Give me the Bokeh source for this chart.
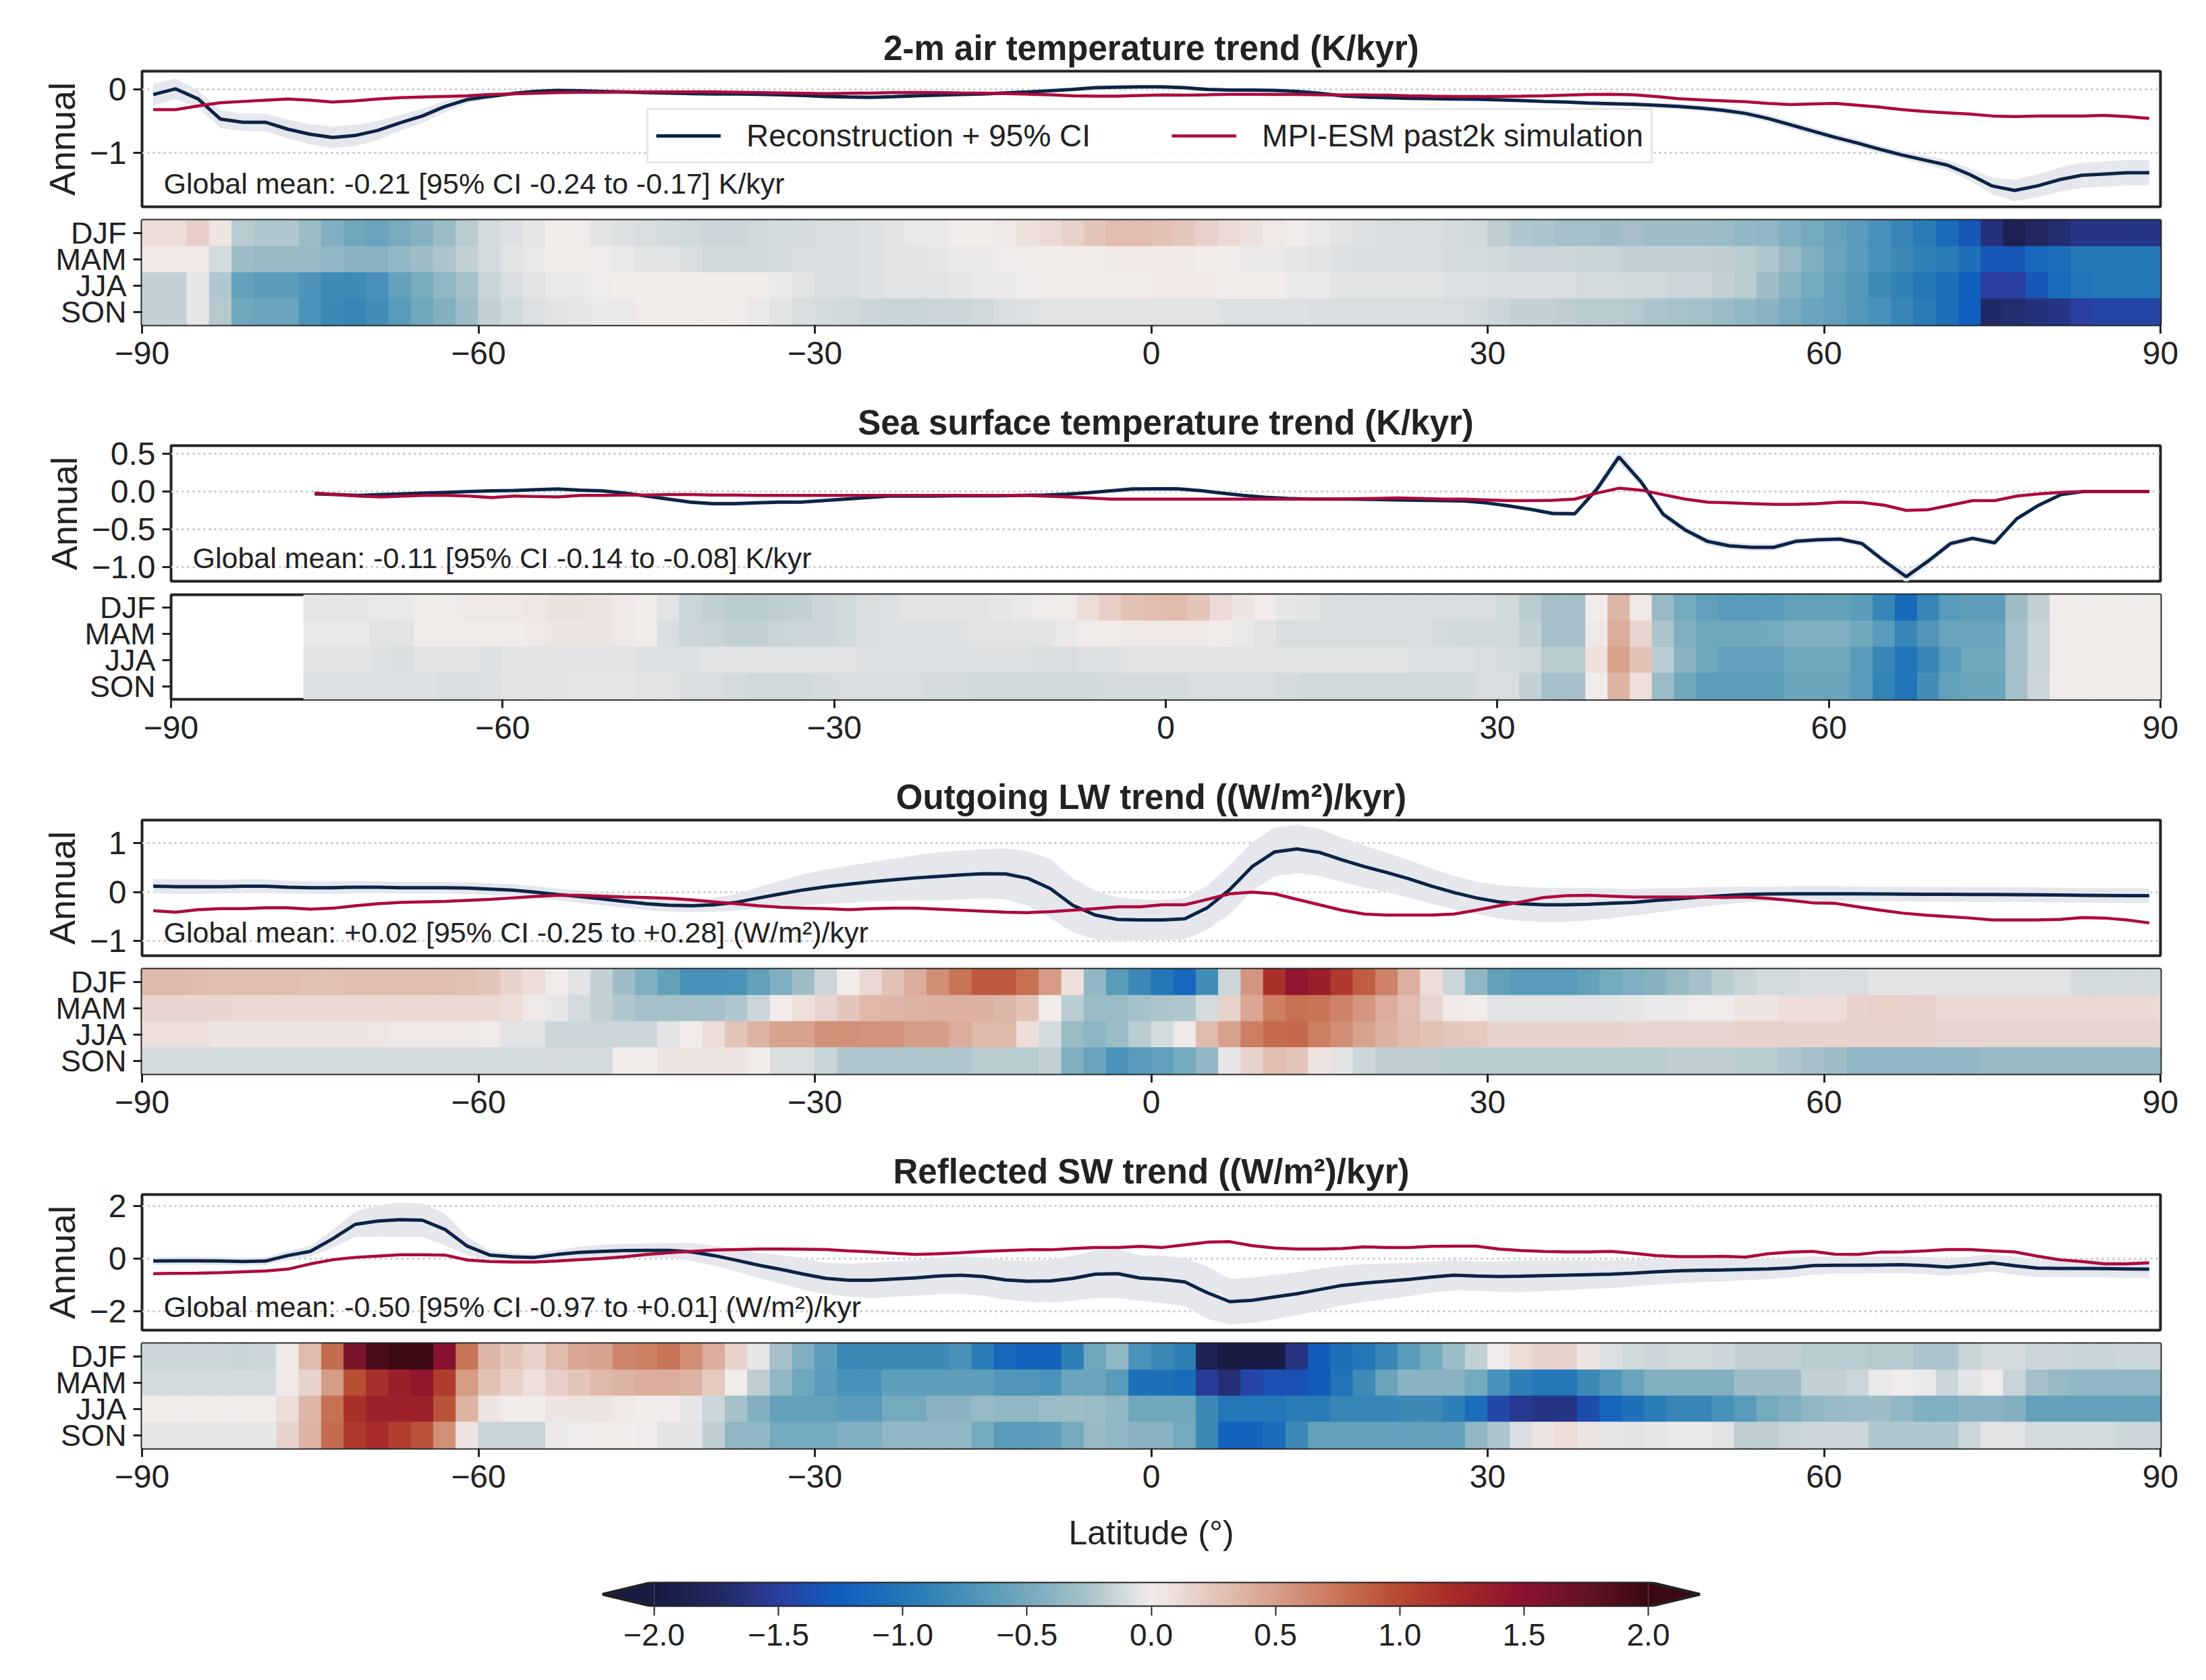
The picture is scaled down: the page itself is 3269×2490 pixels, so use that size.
import numpy as np
from bokeh.plotting import figure
from bokeh.models import (Range1d, FactorRange, ColumnDataSource, LinearColorMapper, Label,
                          Legend, LegendItem, FixedTicker)
from bokeh.transform import transform
from bokeh.embed import file_html
from bokeh.resources import INLINE

N = float("nan")
LAT = list(range(-89, 90, 2))          # latitude grid-cell centres (deg)
SEASONS = ["DJF", "MAM", "JJA", "SON"]
X_TICKS = [-90, -60, -30, 0, 30, 60, 90]
CB_TICKS = [-2.0, -1.5, -1.0, -0.5, 0.0, 0.5, 1.0, 1.5, 2.0]

TITLES = ["2-m air temperature trend (K/kyr)",
          "Sea surface temperature trend (K/kyr)",
          "Outgoing LW trend ((W/m\u00b2)/kyr)",
          "Reflected SW trend ((W/m\u00b2)/kyr)"]
GLOBAL_MEAN = ["Global mean: -0.21 [95% CI -0.24 to -0.17] K/kyr",
               "Global mean: -0.11 [95% CI -0.14 to -0.08] K/kyr",
               "Global mean: +0.02 [95% CI -0.25 to +0.28] (W/m\u00b2)/kyr",
               "Global mean: -0.50 [95% CI -0.97 to +0.01] (W/m\u00b2)/kyr"]
LEGEND_LABELS = ["Reconstruction + 95% CI", "MPI-ESM past2k simulation"]

# ---------------- 2-m air temperature ----------------
T2M_REC = [-0.08, 0.01, -0.15, -0.47, -0.52, -0.52, -0.63, -0.71, -0.76, -0.73,
           -0.65, -0.53, -0.42, -0.27, -0.16, -0.11, -0.065, -0.03, -0.015, -0.02,
           -0.03, -0.04, -0.05, -0.057, -0.065, -0.07, -0.072, -0.076, -0.084, -0.095,
           -0.11, -0.12, -0.125, -0.115, -0.1, -0.09, -0.08, -0.07, -0.055, -0.04,
           -0.02, 0.0, 0.027, 0.035, 0.04, 0.04, 0.027, 0.0, -0.01, -0.01,
           -0.015, -0.03, -0.06, -0.1, -0.12, -0.13, -0.14, -0.145, -0.15, -0.155,
           -0.165, -0.175, -0.19, -0.2, -0.215, -0.225, -0.235, -0.25, -0.27, -0.295,
           -0.33, -0.38, -0.46, -0.56, -0.66, -0.76, -0.85, -0.95, -1.04, -1.12,
           -1.2, -1.35, -1.53, -1.6, -1.53, -1.43, -1.36, -1.34, -1.32, -1.32]
T2M_CI = [0.17, 0.16, 0.14, 0.14, 0.14, 0.14, 0.15, 0.16, 0.17, 0.17,
          0.15, 0.13, 0.11, 0.09, 0.06, 0.04, 0.03, 0.03, 0.03, 0.03,
          0.03, 0.03, 0.03, 0.03, 0.03, 0.03, 0.03, 0.03, 0.03, 0.03,
          0.03, 0.03, 0.03, 0.03, 0.03, 0.03, 0.03, 0.03, 0.03, 0.03,
          0.03, 0.03, 0.035, 0.035, 0.035, 0.035, 0.035, 0.03, 0.03, 0.03,
          0.03, 0.03, 0.03, 0.03, 0.03, 0.03, 0.03, 0.03, 0.03, 0.03,
          0.03, 0.03, 0.03, 0.03, 0.035, 0.035, 0.04, 0.04, 0.045, 0.05,
          0.05, 0.055, 0.06, 0.06, 0.06, 0.06, 0.06, 0.06, 0.06, 0.07,
          0.08, 0.1, 0.13, 0.17, 0.18, 0.19, 0.2, 0.2, 0.2, 0.2]
T2M_MPI = [-0.32, -0.32, -0.26, -0.21, -0.19, -0.17, -0.15, -0.17, -0.2, -0.18,
           -0.15, -0.13, -0.12, -0.11, -0.1, -0.08, -0.07, -0.06, -0.05, -0.045,
           -0.045, -0.04, -0.04, -0.04, -0.04, -0.04, -0.045, -0.05, -0.055, -0.06,
           -0.065, -0.06, -0.057, -0.05, -0.046, -0.05, -0.055, -0.057, -0.065, -0.075,
           -0.085, -0.1, -0.107, -0.107, -0.095, -0.088, -0.09, -0.085, -0.076, -0.076,
           -0.078, -0.08, -0.084, -0.086, -0.088, -0.09, -0.1, -0.107, -0.11, -0.11,
           -0.11, -0.107, -0.1, -0.09, -0.08, -0.076, -0.085, -0.11, -0.145, -0.165,
           -0.18, -0.195, -0.22, -0.24, -0.23, -0.22, -0.25, -0.28, -0.32, -0.35,
           -0.37, -0.39, -0.42, -0.43, -0.42, -0.42, -0.42, -0.41, -0.43, -0.46]
T2M_DJF = [0.1, 0.1, 0.2, 0.05, -0.2, -0.22, -0.22, -0.32, -0.45, -0.52,
           -0.55, -0.48, -0.42, -0.32, -0.2, -0.1, -0.07, -0.04, 0.0, 0.0,
           -0.05, -0.07, -0.08, -0.1, -0.12, -0.13, -0.13, -0.12, -0.1, -0.1,
           -0.08, -0.08, -0.07, -0.05, -0.03, -0.02, 0.0, 0.0, 0.02, 0.07,
           0.12, 0.18, 0.25, 0.3, 0.3, 0.28, 0.24, 0.18, 0.12, 0.07,
           0.03, 0.01, -0.03, -0.06, -0.07, -0.08, -0.08, -0.09, -0.1, -0.11,
           -0.18, -0.22, -0.25, -0.27, -0.28, -0.3, -0.28, -0.3, -0.3, -0.3,
           -0.32, -0.35, -0.37, -0.44, -0.5, -0.57, -0.65, -0.75, -0.85, -0.95,
           -1.1, -1.3, -1.65, -1.88, -1.75, -1.68, -1.6, -1.6, -1.6, -1.6]
T2M_MAM = [0.02, 0.02, 0.02, -0.1, -0.3, -0.33, -0.33, -0.34, -0.36, -0.4,
           -0.4, -0.35, -0.3, -0.25, -0.17, -0.1, -0.06, -0.03, 0.0, 0.0,
           -0.01, -0.03, -0.05, -0.06, -0.08, -0.12, -0.12, -0.12, -0.1, -0.09,
           -0.08, -0.08, -0.07, -0.06, -0.05, -0.04, -0.03, -0.02, -0.01, 0.0,
           0.0, 0.01, 0.01, 0.02, 0.02, 0.02, 0.02, 0.01, 0.0, -0.02,
           -0.03, -0.04, -0.05, -0.07, -0.08, -0.08, -0.08, -0.09, -0.1, -0.1,
           -0.12, -0.13, -0.14, -0.14, -0.15, -0.15, -0.16, -0.16, -0.17, -0.17,
           -0.18, -0.2, -0.22, -0.33, -0.45, -0.55, -0.65, -0.75, -0.82, -0.9,
           -0.95, -1.05, -1.3, -1.3, -1.15, -1.08, -1.0, -1.0, -1.0, -1.0]
T2M_JJA = [-0.16, -0.16, -0.04, -0.22, -0.58, -0.63, -0.63, -0.73, -0.8, -0.8,
           -0.74, -0.58, -0.47, -0.37, -0.27, -0.15, -0.08, -0.06, -0.03, -0.02,
           -0.01, 0.0, 0.0, 0.0, 0.01, 0.01, 0.0, 0.0, -0.02, -0.05,
           -0.08, -0.08, -0.07, -0.06, -0.06, -0.05, -0.04, -0.03, -0.02, -0.01,
           0.0, 0.0, 0.0, 0.01, 0.01, 0.02, 0.02, 0.02, 0.01, 0.01,
           0.0, -0.02, -0.03, -0.05, -0.05, -0.05, -0.06, -0.06, -0.07, -0.07,
           -0.08, -0.08, -0.09, -0.09, -0.1, -0.1, -0.11, -0.12, -0.13, -0.14,
           -0.16, -0.2, -0.3, -0.4, -0.5, -0.58, -0.68, -0.8, -0.9, -1.0,
           -1.05, -1.22, -1.5, -1.5, -1.3, -1.12, -1.03, -1.0, -1.0, -1.0]
T2M_SON = [-0.16, -0.16, -0.04, -0.21, -0.53, -0.56, -0.56, -0.72, -0.82, -0.85,
           -0.78, -0.65, -0.52, -0.43, -0.3, -0.17, -0.11, -0.07, -0.05, -0.04,
           -0.03, -0.02, 0.0, 0.0, 0.0, 0.01, 0.0, -0.03, -0.05, -0.08,
           -0.1, -0.12, -0.14, -0.15, -0.15, -0.14, -0.13, -0.11, -0.09, -0.07,
           -0.06, -0.06, -0.05, -0.05, -0.05, -0.05, -0.06, -0.06, -0.07, -0.07,
           -0.07, -0.07, -0.08, -0.08, -0.08, -0.08, -0.08, -0.08, -0.09, -0.1,
           -0.14, -0.16, -0.17, -0.18, -0.19, -0.2, -0.21, -0.24, -0.26, -0.28,
           -0.32, -0.35, -0.4, -0.48, -0.55, -0.6, -0.68, -0.75, -0.85, -0.95,
           -1.05, -1.25, -1.72, -1.68, -1.65, -1.6, -1.5, -1.45, -1.45, -1.45]

# ---------------- Sea surface temperature ----------------
SST_REC = [N, N, N, N, N, N, -0.03, -0.04, -0.05, -0.04,
           -0.03, -0.02, -0.01, 0.0, 0.01, 0.015, 0.025, 0.035, 0.02, 0.01,
           -0.02, -0.06, -0.1, -0.14, -0.16, -0.16, -0.15, -0.14, -0.14, -0.12,
           -0.1, -0.08, -0.06, -0.06, -0.06, -0.055, -0.055, -0.055, -0.05, -0.045,
           -0.035, -0.015, 0.01, 0.035, 0.037, 0.037, 0.015, -0.02, -0.05, -0.075,
           -0.09, -0.1, -0.1, -0.1, -0.105, -0.11, -0.115, -0.12, -0.125, -0.15,
           -0.19, -0.235, -0.29, -0.295, 0.03, 0.46, 0.13, -0.3, -0.51, -0.66,
           -0.72, -0.74, -0.74, -0.66, -0.64, -0.63, -0.69, -0.92, -1.13, -0.92,
           -0.69, -0.62, -0.68, -0.36, -0.18, -0.04, 0.0, 0.0, 0.0, 0.0]
SST_CI = [N, N, N, N, N, N, 0.02, 0.02, 0.02, 0.02,
          0.02, 0.02, 0.02, 0.02, 0.02, 0.02, 0.02, 0.02, 0.02, 0.02,
          0.02, 0.02, 0.025, 0.03, 0.03, 0.03, 0.03, 0.03, 0.02, 0.02,
          0.02, 0.02, 0.02, 0.02, 0.02, 0.02, 0.02, 0.02, 0.02, 0.02,
          0.02, 0.02, 0.025, 0.03, 0.03, 0.03, 0.025, 0.02, 0.02, 0.02,
          0.02, 0.02, 0.02, 0.02, 0.02, 0.02, 0.02, 0.02, 0.02, 0.02,
          0.025, 0.03, 0.035, 0.035, 0.05, 0.09, 0.06, 0.05, 0.05, 0.05,
          0.05, 0.05, 0.05, 0.04, 0.04, 0.04, 0.04, 0.05, 0.08, 0.06,
          0.04, 0.04, 0.04, 0.03, 0.02, 0.01, 0.005, 0.005, 0.005, 0.005]
SST_MPI = [N, N, N, N, N, N, -0.02, -0.04, -0.06, -0.07,
           -0.06, -0.05, -0.05, -0.06, -0.08, -0.06, -0.065, -0.07, -0.05, -0.05,
           -0.045, -0.045, -0.04, -0.04, -0.045, -0.045, -0.05, -0.05, -0.05, -0.05,
           -0.05, -0.05, -0.05, -0.05, -0.05, -0.05, -0.05, -0.05, -0.05, -0.06,
           -0.07, -0.085, -0.1, -0.1, -0.1, -0.1, -0.1, -0.1, -0.1, -0.1,
           -0.1, -0.1, -0.1, -0.095, -0.09, -0.085, -0.09, -0.1, -0.1, -0.11,
           -0.12, -0.12, -0.115, -0.1, -0.02, 0.045, 0.02, -0.04, -0.1, -0.14,
           -0.15, -0.16, -0.17, -0.17, -0.16, -0.14, -0.145, -0.18, -0.25, -0.24,
           -0.18, -0.12, -0.12, -0.06, -0.03, -0.01, 0.0, 0.0, 0.0, 0.0]
SST_DJF = [N, N, N, N, N, N, -0.04, -0.04, -0.04, -0.02,
           -0.02, 0.0, 0.01, 0.02, 0.02, 0.02, 0.04, 0.07, 0.07, 0.06,
           0.03, 0.0, -0.06, -0.13, -0.17, -0.19, -0.19, -0.18, -0.17, -0.14,
           -0.12, -0.08, -0.07, -0.06, -0.06, -0.05, -0.05, -0.04, -0.02, -0.01,
           0.01, 0.1, 0.2, 0.28, 0.3, 0.32, 0.25, 0.12, 0.05, 0.01,
           -0.04, -0.06, -0.08, -0.08, -0.08, -0.08, -0.08, -0.08, -0.08, -0.08,
           -0.12, -0.19, -0.27, -0.27, 0.0, 0.35, 0.02, -0.34, -0.5, -0.6,
           -0.65, -0.65, -0.65, -0.58, -0.58, -0.58, -0.64, -0.85, -1.13, -0.85,
           -0.65, -0.62, -0.62, -0.3, -0.17, 0.01, 0.01, 0.01, 0.01, 0.01]
SST_MAM = [N, N, N, N, N, N, -0.02, -0.02, -0.02, -0.05,
           -0.05, 0.0, 0.0, 0.0, 0.01, 0.01, 0.02, 0.05, 0.05, 0.05,
           0.03, 0.0, -0.08, -0.13, -0.15, -0.16, -0.16, -0.15, -0.14, -0.13,
           -0.12, -0.08, -0.07, -0.07, -0.07, -0.07, -0.06, -0.06, -0.06, -0.05,
           -0.03, 0.0, 0.01, 0.02, 0.02, 0.02, 0.02, 0.01, -0.03, -0.05,
           -0.08, -0.08, -0.08, -0.08, -0.08, -0.09, -0.09, -0.1, -0.12, -0.12,
           -0.12, -0.17, -0.27, -0.27, 0.02, 0.42, 0.15, -0.25, -0.45, -0.52,
           -0.52, -0.52, -0.5, -0.45, -0.45, -0.45, -0.52, -0.65, -0.85, -0.7,
           -0.55, -0.55, -0.55, -0.28, -0.15, 0.0, 0.0, 0.0, 0.0, 0.0]
SST_JJA = [N, N, N, N, N, N, -0.05, -0.05, -0.05, -0.07,
           -0.08, -0.06, -0.05, -0.06, -0.07, -0.06, -0.06, -0.05, -0.05, -0.06,
           -0.06, -0.07, -0.07, -0.07, -0.06, -0.06, -0.06, -0.05, -0.05, -0.06,
           -0.06, -0.07, -0.07, -0.07, -0.07, -0.07, -0.07, -0.07, -0.07, -0.08,
           -0.08, -0.07, -0.07, -0.06, -0.06, -0.06, -0.06, -0.06, -0.06, -0.06,
           -0.06, -0.06, -0.06, -0.06, -0.06, -0.06, -0.07, -0.07, -0.07, -0.08,
           -0.1, -0.11, -0.2, -0.2, 0.08, 0.48, 0.27, -0.2, -0.4, -0.52,
           -0.6, -0.6, -0.6, -0.52, -0.52, -0.52, -0.65, -0.85, -1.02, -0.85,
           -0.65, -0.53, -0.53, -0.28, -0.15, 0.0, 0.0, 0.0, 0.0, 0.0]
SST_SON = [N, N, N, N, N, N, -0.07, -0.07, -0.07, -0.07,
           -0.07, -0.07, -0.08, -0.08, -0.07, -0.06, -0.06, -0.05, -0.04, -0.04,
           -0.04, -0.05, -0.06, -0.08, -0.09, -0.1, -0.11, -0.11, -0.11, -0.1,
           -0.09, -0.08, -0.08, -0.09, -0.1, -0.1, -0.11, -0.11, -0.12, -0.12,
           -0.12, -0.11, -0.1, -0.1, -0.1, -0.1, -0.09, -0.08, -0.08, -0.09,
           -0.1, -0.12, -0.12, -0.12, -0.12, -0.12, -0.12, -0.12, -0.12, -0.09,
           -0.08, -0.16, -0.27, -0.27, 0.0, 0.37, 0.08, -0.32, -0.52, -0.62,
           -0.62, -0.62, -0.62, -0.56, -0.56, -0.56, -0.65, -0.88, -1.02, -0.78,
           -0.58, -0.56, -0.56, -0.27, -0.13, 0.0, 0.0, 0.0, 0.0, 0.0]

# ---------------- Outgoing longwave ----------------
LW_REC = [0.12, 0.11, 0.11, 0.11, 0.12, 0.12, 0.1, 0.09, 0.09, 0.1,
          0.1, 0.09, 0.09, 0.09, 0.08, 0.06, 0.04, 0.0, -0.05, -0.09,
          -0.14, -0.19, -0.24, -0.27, -0.28, -0.26, -0.21, -0.12, -0.035, 0.045,
          0.11, 0.16, 0.21, 0.25, 0.29, 0.32, 0.35, 0.375, 0.37, 0.28,
          0.07, -0.27, -0.47, -0.56, -0.57, -0.57, -0.545, -0.32, 0.05, 0.52,
          0.82, 0.88, 0.81, 0.66, 0.52, 0.4, 0.27, 0.12, -0.01, -0.12,
          -0.2, -0.24, -0.26, -0.26, -0.25, -0.23, -0.21, -0.17, -0.14, -0.1,
          -0.075, -0.05, -0.04, -0.035, -0.035, -0.035, -0.037, -0.04, -0.042, -0.045,
          -0.047, -0.05, -0.05, -0.052, -0.055, -0.06, -0.065, -0.07, -0.075, -0.075]
LW_CI = [0.15, 0.15, 0.15, 0.14, 0.14, 0.14, 0.13, 0.13, 0.13, 0.13,
         0.12, 0.12, 0.12, 0.12, 0.12, 0.12, 0.12, 0.12, 0.12, 0.13,
         0.13, 0.13, 0.13, 0.13, 0.13, 0.14, 0.17, 0.22, 0.27, 0.32,
         0.35, 0.38, 0.4, 0.43, 0.46, 0.49, 0.5, 0.5, 0.52, 0.56,
         0.6, 0.55, 0.5, 0.45, 0.42, 0.41, 0.42, 0.45, 0.5, 0.5,
         0.5, 0.49, 0.48, 0.45, 0.43, 0.4, 0.38, 0.36, 0.34, 0.33,
         0.34, 0.35, 0.35, 0.35, 0.33, 0.3, 0.27, 0.25, 0.22, 0.2,
         0.18, 0.16, 0.15, 0.15, 0.15, 0.15, 0.15, 0.15, 0.15, 0.15,
         0.15, 0.15, 0.15, 0.15, 0.15, 0.15, 0.15, 0.15, 0.15, 0.15]
LW_MPI = [-0.38, -0.41, -0.36, -0.34, -0.34, -0.32, -0.32, -0.35, -0.33, -0.28,
          -0.24, -0.21, -0.2, -0.19, -0.17, -0.15, -0.12, -0.09, -0.065, -0.065,
          -0.085, -0.1, -0.11, -0.13, -0.16, -0.2, -0.24, -0.28, -0.31, -0.33,
          -0.34, -0.36, -0.34, -0.33, -0.33, -0.35, -0.37, -0.39, -0.41, -0.42,
          -0.4, -0.37, -0.34, -0.3, -0.3, -0.26, -0.26, -0.15, -0.035, 0.0,
          -0.035, -0.15, -0.26, -0.37, -0.45, -0.47, -0.47, -0.47, -0.45, -0.37,
          -0.28, -0.2, -0.11, -0.075, -0.065, -0.085, -0.1, -0.1, -0.1, -0.1,
          -0.11, -0.1, -0.13, -0.17, -0.22, -0.23, -0.3, -0.37, -0.43, -0.47,
          -0.5, -0.53, -0.57, -0.57, -0.57, -0.56, -0.52, -0.53, -0.57, -0.63]
LW_DJF = [0.33, 0.34, 0.32, 0.31, 0.3, 0.3, 0.3, 0.29, 0.29, 0.3,
          0.3, 0.3, 0.3, 0.3, 0.29, 0.25, 0.17, 0.1, 0.01, -0.06,
          -0.16, -0.3, -0.45, -0.58, -0.75, -0.75, -0.72, -0.58, -0.45, -0.3,
          -0.13, 0.01, 0.13, 0.27, 0.42, 0.6, 0.75, 0.92, 0.92, 0.78,
          0.53, 0.08, -0.36, -0.65, -0.82, -1.0, -1.15, -0.78, -0.14, 0.55,
          1.18, 1.45, 1.35, 1.12, 0.88, 0.68, 0.4, 0.1, -0.13, -0.36,
          -0.58, -0.65, -0.65, -0.65, -0.58, -0.5, -0.45, -0.42, -0.34, -0.27,
          -0.2, -0.15, -0.1, -0.1, -0.08, -0.08, -0.08, -0.05, -0.05, -0.05,
          -0.05, -0.05, -0.06, -0.06, -0.06, -0.06, -0.1, -0.1, -0.1, -0.1]
LW_MAM = [0.15, 0.15, 0.15, 0.15, 0.14, 0.14, 0.14, 0.14, 0.14, 0.14,
          0.14, 0.13, 0.13, 0.13, 0.13, 0.13, 0.1, 0.03, -0.04, -0.1,
          -0.16, -0.22, -0.27, -0.27, -0.28, -0.28, -0.23, -0.13, 0.0, 0.08,
          0.15, 0.25, 0.33, 0.35, 0.36, 0.38, 0.38, 0.38, 0.35, 0.27,
          0.01, -0.19, -0.32, -0.32, -0.28, -0.25, -0.23, -0.1, 0.18, 0.45,
          0.7, 0.78, 0.76, 0.68, 0.55, 0.42, 0.3, 0.15, 0.03, 0.0,
          -0.05, -0.06, -0.06, -0.06, -0.05, -0.05, -0.04, -0.03, -0.02, -0.01,
          -0.01, 0.05, 0.05, 0.1, 0.1, 0.1, 0.17, 0.18, 0.18, 0.17,
          0.14, 0.14, 0.13, 0.13, 0.13, 0.13, 0.13, 0.13, 0.13, 0.13]
LW_JJA = [0.09, 0.09, 0.08, 0.06, 0.05, 0.05, 0.05, 0.05, 0.05, 0.05,
          0.04, 0.03, 0.02, 0.02, 0.02, 0.01, -0.05, -0.05, -0.13, -0.13,
          -0.13, -0.13, -0.13, -0.06, 0.01, 0.1, 0.25, 0.36, 0.47, 0.47,
          0.58, 0.58, 0.57, 0.57, 0.5, 0.5, 0.42, 0.33, 0.33, 0.1,
          -0.1, -0.32, -0.38, -0.32, -0.2, -0.1, 0.02, 0.32, 0.48, 0.7,
          0.8, 0.82, 0.7, 0.6, 0.48, 0.38, 0.32, 0.27, 0.24, 0.22,
          0.16, 0.17, 0.17, 0.17, 0.17, 0.16, 0.15, 0.15, 0.15, 0.15,
          0.15, 0.16, 0.16, 0.17, 0.17, 0.17, 0.17, 0.16, 0.16, 0.16,
          0.15, 0.15, 0.15, 0.15, 0.15, 0.15, 0.15, 0.15, 0.15, 0.15]
LW_SON = [-0.1, -0.1, -0.1, -0.1, -0.1, -0.1, -0.1, -0.1, -0.1, -0.1,
          -0.1, -0.1, -0.1, -0.1, -0.1, -0.1, -0.1, -0.1, -0.1, -0.1,
          -0.1, 0.0, 0.0, 0.05, 0.05, 0.05, 0.05, 0.0, -0.08, -0.08,
          -0.15, -0.23, -0.23, -0.23, -0.23, -0.23, -0.23, -0.19, -0.19, -0.19,
          -0.17, -0.45, -0.55, -0.72, -0.65, -0.6, -0.5, -0.35, -0.04, 0.17,
          0.3, 0.25, 0.05, -0.05, -0.13, -0.18, -0.18, -0.18, -0.2, -0.2,
          -0.2, -0.2, -0.2, -0.2, -0.19, -0.19, -0.19, -0.19, -0.18, -0.18,
          -0.18, -0.19, -0.2, -0.22, -0.28, -0.3, -0.36, -0.37, -0.37, -0.36,
          -0.35, -0.35, -0.34, -0.34, -0.34, -0.34, -0.34, -0.34, -0.34, -0.34]

# ---------------- Reflected shortwave ----------------
SW_REC = [-0.09, -0.08, -0.08, -0.09, -0.11, -0.09, 0.12, 0.28, 0.76, 1.31,
          1.44, 1.49, 1.47, 1.12, 0.48, 0.14, 0.07, 0.05, 0.16, 0.24,
          0.28, 0.31, 0.32, 0.32, 0.26, 0.12, -0.06, -0.25, -0.41, -0.59,
          -0.75, -0.82, -0.82, -0.78, -0.73, -0.66, -0.63, -0.68, -0.81, -0.86,
          -0.85, -0.75, -0.59, -0.57, -0.74, -0.79, -0.89, -1.3, -1.64, -1.59,
          -1.46, -1.34, -1.18, -1.02, -0.93, -0.86, -0.79, -0.7, -0.63, -0.66,
          -0.68, -0.67, -0.65, -0.63, -0.61, -0.59, -0.55, -0.5, -0.46, -0.44,
          -0.43, -0.41, -0.39, -0.35, -0.26, -0.25, -0.25, -0.24, -0.23, -0.26,
          -0.32, -0.25, -0.16, -0.27, -0.36, -0.37, -0.37, -0.38, -0.39, -0.4]
SW_CI = [0.15, 0.15, 0.15, 0.15, 0.15, 0.15, 0.17, 0.2, 0.35, 0.48,
         0.6, 0.66, 0.64, 0.6, 0.36, 0.17, 0.14, 0.13, 0.17, 0.22,
         0.25, 0.26, 0.27, 0.28, 0.34, 0.38, 0.43, 0.48, 0.55, 0.6,
         0.6, 0.63, 0.68, 0.68, 0.68, 0.7, 0.72, 0.73, 0.75, 0.78,
         0.82, 0.86, 0.9, 0.94, 0.87, 0.9, 0.92, 1.0, 0.87, 0.86,
         0.85, 0.82, 0.8, 0.76, 0.72, 0.68, 0.64, 0.6, 0.58, 0.56,
         0.58, 0.6, 0.59, 0.57, 0.55, 0.53, 0.51, 0.49, 0.47, 0.45,
         0.43, 0.41, 0.39, 0.37, 0.35, 0.32, 0.32, 0.32, 0.32, 0.33,
         0.33, 0.33, 0.33, 0.34, 0.34, 0.33, 0.33, 0.34, 0.34, 0.34]
SW_MPI = [-0.57, -0.56, -0.55, -0.53, -0.5, -0.47, -0.4, -0.2, -0.04, 0.05,
          0.1, 0.15, 0.15, 0.14, -0.05, -0.11, -0.13, -0.13, -0.09, -0.04,
          0.01, 0.07, 0.16, 0.23, 0.28, 0.33, 0.35, 0.37, 0.37, 0.36,
          0.35, 0.3, 0.26, 0.21, 0.16, 0.19, 0.23, 0.28, 0.31, 0.34,
          0.34, 0.39, 0.43, 0.43, 0.47, 0.43, 0.53, 0.63, 0.65, 0.5,
          0.41, 0.37, 0.37, 0.39, 0.45, 0.43, 0.43, 0.47, 0.48, 0.48,
          0.37, 0.31, 0.28, 0.26, 0.26, 0.28, 0.21, 0.12, 0.08, 0.08,
          0.09, 0.06, 0.19, 0.25, 0.28, 0.17, 0.16, 0.25, 0.26, 0.3,
          0.35, 0.35, 0.3, 0.26, 0.1, -0.04, -0.11, -0.2, -0.2, -0.16]
SW_DJF = [-0.13, -0.13, -0.13, -0.14, -0.15, -0.14, 0.03, 0.32, 0.8, 1.6,
          1.9, 2.0, 2.0, 1.52, 0.76, 0.35, 0.25, 0.18, 0.32, 0.44,
          0.47, 0.66, 0.69, 0.75, 0.6, 0.42, 0.17, -0.04, -0.28, -0.45,
          -0.62, -0.82, -0.82, -0.82, -0.82, -0.82, -0.75, -0.95, -1.15, -1.2,
          -1.2, -0.92, -0.53, -0.37, -0.72, -0.82, -0.92, -1.85, -1.98, -1.98,
          -1.98, -1.62, -1.28, -1.05, -1.0, -0.85, -0.65, -0.5, -0.32, -0.16,
          -0.01, 0.1, 0.17, 0.17, 0.05, -0.07, -0.12, -0.13, -0.12, -0.12,
          -0.13, -0.16, -0.16, -0.16, -0.2, -0.2, -0.2, -0.21, -0.21, -0.25,
          -0.25, -0.15, -0.1, -0.1, -0.14, -0.14, -0.15, -0.15, -0.14, -0.14]
SW_MAM = [-0.1, -0.1, -0.1, -0.1, -0.1, -0.1, 0.02, 0.16, 0.5, 0.98,
          1.2, 1.35, 1.45, 1.1, 0.52, 0.27, 0.18, 0.08, 0.2, 0.25,
          0.33, 0.37, 0.42, 0.42, 0.37, 0.23, 0.01, -0.18, -0.37, -0.52,
          -0.65, -0.75, -0.75, -0.62, -0.62, -0.62, -0.62, -0.62, -0.7, -0.7,
          -0.72, -0.56, -0.56, -0.65, -1.05, -1.05, -1.1, -1.52, -1.67, -1.45,
          -1.35, -1.35, -1.28, -1.03, -0.8, -0.56, -0.4, -0.4, -0.4, -0.5,
          -0.75, -0.92, -1.0, -1.0, -0.82, -0.7, -0.55, -0.43, -0.43, -0.43,
          -0.43, -0.3, -0.3, -0.3, -0.17, -0.17, -0.13, -0.03, -0.01, -0.02,
          -0.13, -0.05, -0.01, -0.15, -0.28, -0.33, -0.36, -0.36, -0.36, -0.36]
SW_JJA = [0.01, 0.01, 0.01, 0.01, 0.0, 0.0, 0.1, 0.35, 0.78, 1.18,
          1.32, 1.32, 1.32, 0.95, 0.37, 0.06, 0.01, 0.01, 0.05, 0.05,
          0.05, 0.03, 0.01, 0.01, -0.04, -0.13, -0.27, -0.43, -0.58, -0.58,
          -0.58, -0.65, -0.65, -0.5, -0.5, -0.4, -0.4, -0.34, -0.37, -0.37,
          -0.32, -0.3, -0.32, -0.37, -0.52, -0.52, -0.52, -0.82, -1.0, -1.0,
          -1.0, -0.95, -0.95, -0.85, -0.85, -0.85, -0.82, -0.82, -0.92, -1.08,
          -1.42, -1.55, -1.6, -1.6, -1.38, -1.18, -1.05, -0.95, -0.85, -0.85,
          -0.75, -0.65, -0.5, -0.45, -0.36, -0.34, -0.32, -0.31, -0.36, -0.45,
          -0.45, -0.4, -0.4, -0.43, -0.58, -0.58, -0.58, -0.58, -0.58, -0.58]
SW_SON = [-0.04, -0.04, -0.04, -0.04, -0.04, -0.04, 0.17, 0.37, 0.8, 1.12,
          1.22, 1.08, 0.95, 0.58, 0.06, -0.15, -0.15, -0.15, -0.02, -0.01,
          0.0, 0.0, -0.01, -0.06, -0.06, -0.18, -0.37, -0.37, -0.5, -0.5,
          -0.5, -0.45, -0.45, -0.37, -0.37, -0.37, -0.37, -0.5, -0.65, -0.65,
          -0.62, -0.5, -0.34, -0.36, -0.4, -0.4, -0.5, -0.82, -1.2, -1.2,
          -1.1, -0.82, -0.58, -0.58, -0.58, -0.58, -0.58, -0.58, -0.58, -0.36,
          -0.25, -0.08, 0.05, 0.1, 0.05, -0.04, -0.05, -0.04, -0.03, -0.03,
          -0.05, -0.18, -0.18, -0.15, -0.13, -0.13, -0.13, -0.23, -0.23, -0.23,
          -0.23, -0.13, -0.06, -0.06, -0.1, -0.1, -0.1, -0.1, -0.13, -0.13]

PANELS = [
    dict(rec=T2M_REC, ci=T2M_CI, mpi=T2M_MPI, heat=[T2M_DJF, T2M_MAM, T2M_JJA, T2M_SON],
         yr=(-1.86, 0.29), yt=[-1, 0], yl=["\u22121", "0"]),
    dict(rec=SST_REC, ci=SST_CI, mpi=SST_MPI, heat=[SST_DJF, SST_MAM, SST_JJA, SST_SON],
         yr=(-1.19, 0.61), yt=[-1.0, -0.5, 0.0, 0.5], yl=["\u22121.0", "\u22120.5", "0.0", "0.5"]),
    dict(rec=LW_REC, ci=LW_CI, mpi=LW_MPI, heat=[LW_DJF, LW_MAM, LW_JJA, LW_SON],
         yr=(-1.30, 1.47), yt=[-1, 0, 1], yl=["\u22121", "0", "1"]),
    dict(rec=SW_REC, ci=SW_CI, mpi=SW_MPI, heat=[SW_DJF, SW_MAM, SW_JJA, SW_SON],
         yr=(-2.73, 2.45), yt=[-2, 0, 2], yl=["\u22122", "0", "2"]),
]
for pnl in PANELS:
    for arr in [pnl["rec"], pnl["ci"], pnl["mpi"]] + pnl["heat"]:
        assert len(arr) == len(LAT), len(arr)

# ---------------- colour map (balance-like diverging) ----------------
CB_ANCHORS = [(0.0, "#181c43"), (0.0625, "#212862"), (0.125, "#2a3fa0"), (0.1875, "#105fc0"),
              (0.25, "#2277b6"), (0.3125, "#4791b8"), (0.375, "#73a9bd"), (0.4375, "#aac3ca"),
              (0.5, "#f1ecec"), (0.5625, "#e4c6bb"), (0.625, "#d69f8a"), (0.6875, "#c97658"),
              (0.75, "#b84a31"), (0.8125, "#a52828"), (0.875, "#8c1230"), (0.9375, "#641424"),
              (1.0, "#3c0912")]


def _rgb(h):
    return [int(h[i:i + 2], 16) for i in (1, 3, 5)]


PALETTE = []
for i in range(256):
    t = i / 255
    for (t0, c0), (t1, c1) in zip(CB_ANCHORS[:-1], CB_ANCHORS[1:]):
        if t0 <= t <= t1:
            f = (t - t0) / (t1 - t0)
            a, b = _rgb(c0), _rgb(c1)
            PALETTE.append("#%02x%02x%02x" % tuple(int(round(a[k] + f * (b[k] - a[k]))) for k in range(3)))
            break
MAPPER = LinearColorMapper(palette=PALETTE, low=-2, high=2)

FONT = "Liberation Sans"
NAVY = "#0b2447"
RED = "#ad0a3e"
BAND = "#e5e7ed"
DARK = "#222222"
TOTAL_W = 3261
FRAME_RIGHT_BORDER = 60


def style_axis(ax, size="48px"):
    ax.major_label_text_font = FONT
    ax.major_label_text_font_size = size
    ax.major_label_text_color = DARK
    ax.axis_line_color = None
    ax.major_tick_in = 0
    ax.major_tick_out = 13
    ax.major_tick_line_width = 3
    ax.major_tick_line_color = DARK
    ax.minor_tick_line_color = None


figs = []
for k, pnl in enumerate(PANELS):
    left = 253 if k == 1 else 210
    fw = TOTAL_W - left - FRAME_RIGHT_BORDER
    lat = np.array(LAT, dtype=float)
    rec = np.array(pnl["rec"], dtype=float)
    ci = np.array(pnl["ci"], dtype=float)
    mpi = np.array(pnl["mpi"], dtype=float)
    ok = ~np.isnan(rec)

    # ---- annual line panel ----
    pl = figure(frame_width=fw, frame_height=201, min_border_left=left,
                min_border_right=FRAME_RIGHT_BORDER, min_border_top=(105 if k == 0 else 97),
                min_border_bottom=10,
                x_range=Range1d(-90, 90), y_range=Range1d(*pnl["yr"]),
                output_backend="svg", toolbar_location=None, title=TITLES[k])
    pl.title.text_font = FONT
    pl.title.text_font_size = "51px"
    pl.title.text_font_style = "bold"
    pl.title.text_color = DARK
    pl.title.align = "center"
    pl.title.standoff = 12
    pl.outline_line_color = DARK
    pl.outline_line_width = 4
    pl.xaxis.visible = False
    pl.xgrid.visible = False
    pl.ygrid.grid_line_color = "#c9c9c9"
    pl.ygrid.grid_line_width = 3
    pl.ygrid.grid_line_dash = "3 5"
    pl.yaxis.ticker = FixedTicker(ticks=pnl["yt"])
    pl.yaxis.major_label_overrides = {t: s for t, s in zip(pnl["yt"], pnl["yl"])}
    style_axis(pl.yaxis[0])
    pl.yaxis.major_label_standoff = 10
    pl.yaxis.axis_label = "Annual"
    pl.yaxis.axis_label_text_font = FONT
    pl.yaxis.axis_label_text_font_size = "54px"
    pl.yaxis.axis_label_text_font_style = "normal"
    pl.yaxis.axis_label_text_color = DARK
    pl.yaxis.axis_label_standoff = 8

    pl.varea(x=lat[ok], y1=(rec - ci)[ok], y2=(rec + ci)[ok], fill_color=BAND)
    r_rec = pl.line(lat[ok], rec[ok], line_color=NAVY, line_width=5)
    r_mpi = pl.line(lat[ok], mpi[ok], line_color=RED, line_width=4.5)

    y0, y1 = pnl["yr"]
    pl.add_layout(Label(x=-90 + 32 * 180.0 / fw, y=y0 + 35 * (y1 - y0) / 201.0,
                        text=GLOBAL_MEAN[k], text_font=FONT, text_font_size="43px",
                        text_color=DARK, text_baseline="alphabetic"))
    if k == 0:
        leg = Legend(items=[LegendItem(label=LEGEND_LABELS[0], renderers=[r_rec]),
                            LegendItem(label=LEGEND_LABELS[1], renderers=[r_mpi])],
                     orientation="horizontal", location=(748, 64))
        leg.label_text_font = FONT
        leg.label_text_font_size = "46px"
        leg.label_text_color = DARK
        leg.glyph_width = 96
        leg.glyph_height = 40
        leg.label_height = 40
        leg.label_standoff = 38
        leg.spacing = 120
        leg.padding = 11
        leg.margin = 0
        leg.border_line_color = "#cfcfcf"
        leg.border_line_width = 3
        leg.background_fill_alpha = 0.85
        pl.add_layout(leg)

    # ---- seasonal heat-map panel ----
    last = (k == 3)
    ph = figure(frame_width=fw, frame_height=155, min_border_left=left,
                min_border_right=FRAME_RIGHT_BORDER, min_border_top=10,
                min_border_bottom=(170 if last else 82),
                x_range=Range1d(-90, 90), y_range=FactorRange(factors=SEASONS[::-1]),
                output_backend="svg", toolbar_location=None)
    xs, ys, vs = [], [], []
    for s, row in zip(SEASONS, pnl["heat"]):
        for la, v in zip(LAT, row):
            if v == v:
                xs.append(la)
                ys.append(s)
                vs.append(v)
    src = ColumnDataSource(dict(x=xs, y=ys, v=vs))
    ph.rect(x="x", y="y", width=2, height=1, source=src,
            fill_color=transform("v", MAPPER), line_color=transform("v", MAPPER), line_width=1)
    ph.outline_line_color = DARK
    ph.outline_line_width = 4
    ph.xgrid.visible = False
    ph.ygrid.visible = False
    ph.xaxis.ticker = FixedTicker(ticks=X_TICKS)
    ph.xaxis.major_label_overrides = {t: str(t).replace("-", "\u2212") for t in X_TICKS}
    style_axis(ph.xaxis[0])
    ph.xaxis.major_label_standoff = 12
    style_axis(ph.yaxis[0], size="45px")
    ph.yaxis.major_label_standoff = 10
    if last:
        ph.xaxis.axis_label = "Latitude (\u00b0)"
        ph.xaxis.axis_label_text_font = FONT
        ph.xaxis.axis_label_text_font_size = "50px"
        ph.xaxis.axis_label_text_font_style = "normal"
        ph.xaxis.axis_label_text_color = DARK
        ph.xaxis.axis_label_standoff = 36
    figs += [pl, ph]

# ---------------- colour bar ----------------
CB_LEFT = 892
CB_W = 1627
ext = 77 * 4.0 / (CB_W - 2 * 77)
pc = figure(frame_width=CB_W, frame_height=37, min_border_left=CB_LEFT,
            min_border_right=TOTAL_W - CB_LEFT - CB_W, min_border_top=28, min_border_bottom=80,
            x_range=Range1d(-2 - ext, 2 + ext), y_range=Range1d(0, 1),
            output_backend="svg", toolbar_location=None)
pc.image(image=[np.linspace(-2, 2, 512).reshape(1, -1)], x=-2, y=0, dw=4, dh=1, color_mapper=MAPPER)
pc.patch([-2, -2 - ext, -2], [0, 0.5, 1], fill_color=PALETTE[0], line_color=None)
pc.patch([2, 2 + ext, 2], [0, 0.5, 1], fill_color=PALETTE[-1], line_color=None)
pc.line([-2, 2, 2 + ext, 2, -2, -2 - ext, -2], [0, 0, 0.5, 1, 1, 0.5, 0],
        line_color=DARK, line_width=4)
pc.outline_line_color = None
pc.xgrid.visible = False
pc.ygrid.visible = False
pc.yaxis.visible = False
pc.xaxis.ticker = FixedTicker(ticks=CB_TICKS)
pc.xaxis.major_label_overrides = {t: ("%.1f" % t).replace("-", "\u2212") for t in CB_TICKS}
style_axis(pc.xaxis[0], size="46px")
pc.xaxis.major_tick_line_width = 2
pc.xaxis.major_label_standoff = 12
figs.append(pc)

# independent roots (stacked vertically) so that each figure keeps its own borders
open("out.html", "w").write(file_html(figs, INLINE))
